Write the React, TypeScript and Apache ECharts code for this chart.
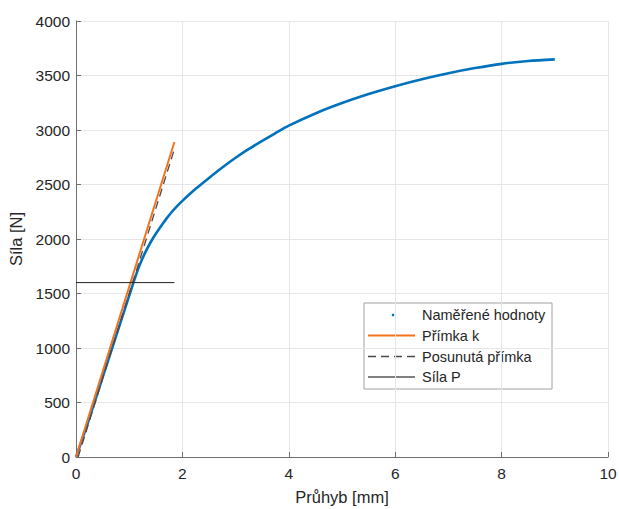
import React, { useEffect, useRef } from "react";
import * as echarts from "echarts";

// Measured data: deflection [mm] vs force [N]
const measuredX = [0, 0.2, 0.4, 0.6, 0.8, 1.0, 1.1, 1.2, 1.3, 1.4, 1.5, 1.6, 1.7, 1.8, 1.9, 2.0, 2.25, 2.5, 2.75, 3.0, 3.25, 3.5, 3.75, 4.0, 4.5, 5.0, 5.5, 6.0, 6.5, 7.0, 7.5, 8.0, 8.5, 9.0];
const measuredY = [0, 280, 580, 880, 1180, 1480, 1630, 1765, 1875, 1968, 2048, 2120, 2187, 2248, 2302, 2350, 2460, 2560, 2656, 2745, 2826, 2900, 2972, 3040, 3152, 3247, 3330, 3402, 3466, 3521, 3568, 3607, 3633, 3648];

const lineKX = [0, 1.85];
const lineKY = [0, 2890];

const shiftedX = [0.04, 1.84];
const shiftedY = [0, 2810];

const forcePX = [0, 1.85];
const forcePY = [1600, 1600];

const xTicks = { min: 0, max: 10, interval: 2 };
const yTicks = { min: 0, max: 4000, interval: 500 };

const legendNames = ["Naměřené hodnoty", "Přímka k", "Posunutá přímka", "Síla P"];

const zip = (xs: number[], ys: number[]) => xs.map((x, i) => [x, ys[i]]);

const FONT = "'Liberation Sans', Arial, Helvetica, sans-serif";
const TEXT = "#262626";
const AXIS = "#707070";
const BLUE = "#0072BD";
const ORANGE = "#F4731F";
const DASH = "#4a4a4a";

export default function App() {
  const ref = useRef<HTMLDivElement>(null);
  useEffect(() => {
    if (!ref.current) return;
    const chart = echarts.init(ref.current, null, { renderer: "svg" });

    const lx = 364, ly = 303, lw = 188, lh = 86;
    const rowY = [315, 335.5, 356.5, 377];
    const legendChildren: any[] = [
      { type: "rect", shape: { x: lx, y: ly, width: lw, height: lh }, style: { fill: "#fff", stroke: "#a0a0a0", lineWidth: 1 } },
      { type: "circle", shape: { cx: 393, cy: rowY[0], r: 1.3 }, style: { fill: BLUE } },
      { type: "line", shape: { x1: 368, y1: rowY[1], x2: 415, y2: rowY[1] }, style: { stroke: ORANGE, lineWidth: 2 } },
      { type: "line", shape: { x1: 368, y1: rowY[2], x2: 415, y2: rowY[2] }, style: { stroke: DASH, lineWidth: 1.3, lineDash: [8, 5] } },
      { type: "line", shape: { x1: 368, y1: rowY[3], x2: 415, y2: rowY[3] }, style: { stroke: "#000", lineWidth: 1 } },
    ];
    legendNames.forEach((n, i) => {
      legendChildren.push({
        type: "text",
        x: 422,
        y: rowY[i],
        style: { text: n, fill: TEXT, font: `14.5px ${FONT}`, verticalAlign: "middle" },
      });
    });

    const fmt = (v: number) => String(v);

    chart.setOption({
      animation: false,
      backgroundColor: "#fff",
      grid: { left: 76, right: 11, top: 21, bottom: 52, containLabel: false, outerBoundsMode: "none" },
      xAxis: {
        type: "value",
        min: xTicks.min,
        max: xTicks.max,
        interval: xTicks.interval,
        name: "Průhyb [mm]",
        nameLocation: "middle",
        nameGap: 31,
        nameTextStyle: { color: TEXT, fontSize: 16.5, fontFamily: FONT },
        axisLine: { show: true, onZero: false, lineStyle: { color: AXIS, width: 1 } },
        axisTick: { show: true, inside: true, length: 5, lineStyle: { color: AXIS } },
        axisLabel: { color: TEXT, fontSize: 15.5, fontFamily: FONT, margin: 8, formatter: fmt },
        splitLine: { show: true, lineStyle: { color: "#e6e6e6", width: 1 } },
      },
      yAxis: {
        type: "value",
        min: yTicks.min,
        max: yTicks.max,
        interval: yTicks.interval,
        name: "Síla [N]",
        nameLocation: "middle",
        nameGap: 50,
        nameTextStyle: { color: TEXT, fontSize: 16.5, fontFamily: FONT },
        axisLine: { show: true, onZero: false, lineStyle: { color: AXIS, width: 1 } },
        axisTick: { show: true, inside: true, length: 5, lineStyle: { color: AXIS } },
        axisLabel: { color: TEXT, fontSize: 15.5, fontFamily: FONT, margin: 6, formatter: fmt },
        splitLine: { show: true, lineStyle: { color: "#e6e6e6", width: 1 } },
      },
      series: [
        {
          name: legendNames[0],
          type: "line",
          data: zip(measuredX, measuredY),
          smooth: 0.25,
          showSymbol: false,
          lineStyle: { color: BLUE, width: 2.6 },
        },
        {
          name: legendNames[1],
          type: "line",
          data: zip(lineKX, lineKY),
          showSymbol: false,
          lineStyle: { color: ORANGE, width: 2 },
        },
        {
          name: legendNames[2],
          type: "line",
          data: zip(shiftedX, shiftedY),
          showSymbol: false,
          lineStyle: { color: DASH, width: 1.3, type: [8, 5] },
        },
        {
          name: legendNames[3],
          type: "line",
          data: zip(forcePX, forcePY),
          showSymbol: false,
          lineStyle: { color: "#222", width: 1 },
        },
      ],
      graphic: [{ type: "group", children: legendChildren }],
    });
    return () => chart.dispose();
  }, []);
  return <div ref={ref} style={{ position: "fixed", left: 0, top: 0, width: 619, height: 509 }} />;
}
